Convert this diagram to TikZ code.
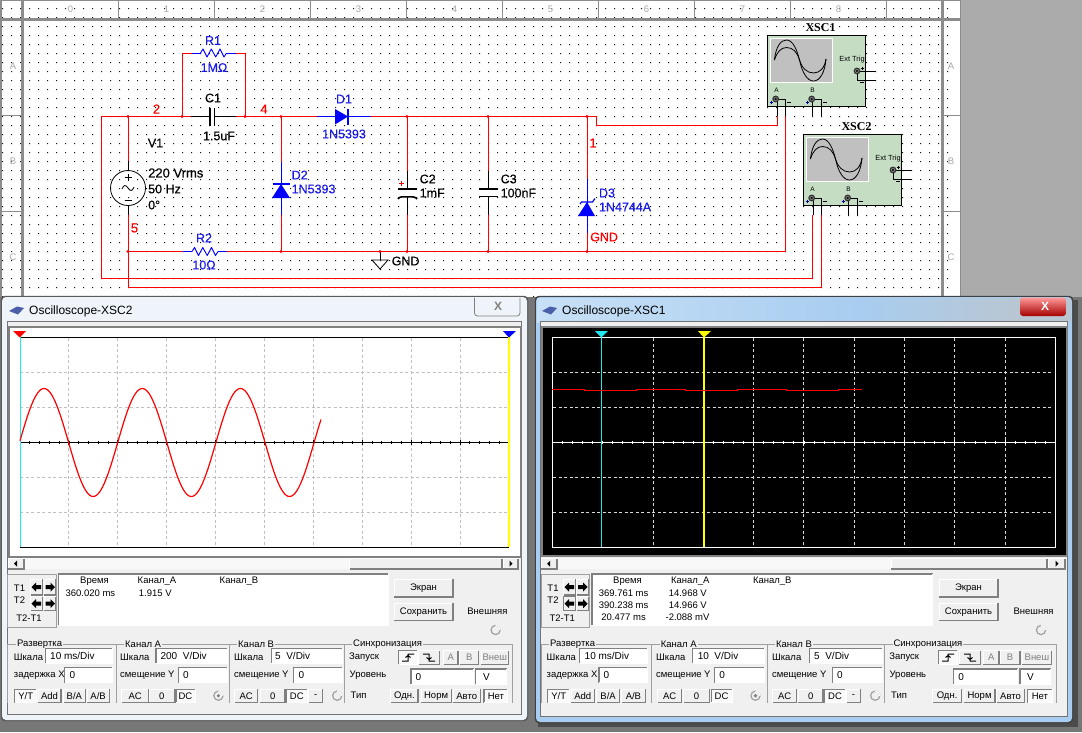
\documentclass[tikz,border=0pt]{standalone}
\usepackage{fontspec}
\setmainfont{Liberation Sans}
\newfontfamily\scopefont{Liberation Serif}
\newfontfamily\heavyfont[FakeBold=0.35]{Liberation Sans}
\definecolor{desk}{HTML}{777777}
\definecolor{greyside}{HTML}{ABABAB}
\definecolor{rulerline}{HTML}{8C8C8C}
\definecolor{rulertxt}{HTML}{A8A8A8}
\definecolor{griddot}{HTML}{101010}
\definecolor{wirered}{HTML}{FF0000}
\definecolor{partblue}{HTML}{0000FF}
\definecolor{lblblue}{HTML}{1A1AE6}
\definecolor{scopegreen}{HTML}{C5DDC3}
\definecolor{screengrey}{HTML}{C0C0C0}
\definecolor{panel}{HTML}{F0F0F0}
\definecolor{framegrey}{HTML}{A0A0A0}
\definecolor{shadeb}{HTML}{808080}
\definecolor{gridgrey}{HTML}{C0C0C0}
\definecolor{curcyan}{HTML}{20E8F0}
\definecolor{curyellow}{HTML}{FFFF00}
\definecolor{glassa}{HTML}{C8E0F6}
\definecolor{glassb}{HTML}{A8CDF0}
\definecolor{glassc}{HTML}{B9C6D2}
\definecolor{glassw}{HTML}{EEF4FA}
\definecolor{iconblue}{HTML}{4A5FA8}
\newcounter{uid}
\tikzset{
  wire/.style={wirered,line width=1pt},
  lead/.style={black,line width=1pt},
  bluelead/.style={partblue,line width=1pt},
  junct/.style={circle,fill=wirered,inner sep=0pt,minimum size=3.4pt},
  comptext/.style={font=\heavyfont\fontsize{12.5}{13}\selectfont,inner sep=0pt,text=black},
  bluetext/.style={comptext,text=lblblue},
  nettext/.style={font=\heavyfont\fontsize{13}{13}\selectfont,inner sep=0pt,text=red},
  rulertext/.style={font=\fontsize{9.5}{10}\selectfont,inner sep=0pt,text=rulertxt},
  uitext/.style={font=\fontsize{9.5}{10}\selectfont,inner sep=0pt,text=black},
  fieldtext/.style={font=\fontsize{10}{10}\selectfont,inner sep=0pt,text=black},
  tinytext/.style={font=\fontsize{6.5}{7}\selectfont,inner sep=0pt,text=black},
  gridline/.style={dash pattern=on 3pt off 2.5pt,line width=0.8pt},
}
\newcommand\rbtn[5]{%
  \fill[panel] (#1,#2) rectangle (#3,#4);
  \draw[white,line width=1pt] (#1,#4) -- (#1,#2) -- (#3,#2);
  \draw[shadeb,line width=1.4pt] (#1,#4) -- (#3,#4) -- (#3,#2);
  \stepcounter{uid}\node[uitext] (u\theuid) at ({(#1+#3)/2},{(#2+#4)/2}) {#5};}
\newcommand\pbtn[5]{%
  \fill[white!60!panel] (#1,#2) rectangle (#3,#4);
  \draw[shadeb,line width=1.2pt] (#1,#4) -- (#1,#2) -- (#3,#2);
  \draw[white,line width=1pt] (#1,#4) -- (#3,#4) -- (#3,#2);
  \stepcounter{uid}\node[uitext] (u\theuid) at ({(#1+#3)/2},{(#2+#4)/2}) {#5};}
\newcommand\dbtn[5]{%
  \fill[panel] (#1,#2) rectangle (#3,#4);
  \draw[white,line width=1pt] (#1,#4) -- (#1,#2) -- (#3,#2);
  \draw[shadeb,line width=1.2pt] (#1,#4) -- (#3,#4) -- (#3,#2);
  \stepcounter{uid}\node[uitext,text=gray] (u\theuid) at ({(#1+#3)/2},{(#2+#4)/2}) {#5};}
\newcommand\fld[6]{%
  \fill[white] (#1,#2) rectangle (#3,#4);
  \draw[shadeb,line width=1.3pt] (#1,#4) -- (#1,#2) -- (#3,#2);
  \draw[white,line width=1pt] (#1,#4) -- (#3,#4) -- (#3,#2);
  \stepcounter{uid}\node[fieldtext,anchor=west] (u\theuid) at (#5,{(#2+#4)/2}) {#6};}
\newcommand\ltxt[3]{\stepcounter{uid}\node[uitext,anchor=west] (u\theuid) at (#1,#2) {#3};}
\newcommand\ctxt[3]{\stepcounter{uid}\node[uitext] (u\theuid) at (#1,#2) {#3};}
\newcommand\grp[4]{%
  \draw[framegrey,line width=1pt] (#1,703.3) -- (#1,644.3) -- (#2,644.3) -- (#2,703.3);
  \stepcounter{uid}\node[uitext,anchor=west,fill=panel,inner xsep=1pt] (u\theuid) at (#3,644) {#4};}
\newcommand\radio[3]{%
  \draw[framegrey,line width=1.2pt] (#1,#2) circle (4.6);
  \draw[white,line width=1.2pt] (#1+4.6,#2) arc (0:-90:4.6);
  \ifnum#3=1 \fill[gray] (#1,#2) circle (1.8);\fi}
\newcommand\arleft[2]{\fill[black] (#1-5,#2) -- (#1-0.5,#2-4.5) -- (#1-0.5,#2-2) -- (#1+4.5,#2-2) -- (#1+4.5,#2+2) -- (#1-0.5,#2+2) -- (#1-0.5,#2+4.5) -- cycle;}
\newcommand\arright[2]{\fill[black] (#1+5,#2) -- (#1+0.5,#2-4.5) -- (#1+0.5,#2-2) -- (#1-4.5,#2-2) -- (#1-4.5,#2+2) -- (#1+0.5,#2+2) -- (#1+0.5,#2+4.5) -- cycle;}
\newcommand\edgeup[2]{\draw[black,line width=1pt] (#1-6,#2+3.5) -- (#1,#2+3.5) -- (#1,#2-3.5) -- (#1+6,#2-3.5) (#1-2.5,#2) -- (#1,#2-2) -- (#1+2.5,#2);}
\newcommand\edgedown[2]{\draw[black,line width=1pt] (#1-6,#2-3.5) -- (#1,#2-3.5) -- (#1,#2+3.5) -- (#1+6,#2+3.5) (#1-2.5,#2) -- (#1,#2+2) -- (#1+2.5,#2);}
\newcommand\sbar[7]{%
  \fill[white!50!panel] (#1,558) rectangle (#7,569);
  \rbtn{#1}{558.5}{#2}{569}{}
  \rbtn{#3}{558.5}{#4}{569}{}
  \rbtn{#5}{558.5}{#6}{569}{}
  \fill[black] ({(#1+#2)/2-2},563.7) -- ({(#1+#2)/2+1},560.7) -- ({(#1+#2)/2+1},566.7) -- cycle;
  \fill[black] ({(#5+#6)/2+2},563.7) -- ({(#5+#6)/2-1},560.7) -- ({(#5+#6)/2-1},566.7) -- cycle;}
\newcommand\zigzag[2]{\draw[partblue,line width=0.9pt,line join=round] (#1-13,#2) -- (#1-10.5,#2-4) -- (#1-6.5,#2+4) -- (#1-2.2,#2-4) -- (#1+2.2,#2+4) -- (#1+6.5,#2-4) -- (#1+10.5,#2+4) -- (#1+13,#2);}
\newcommand\scopeicon[4]{%
\begin{scope}[shift={(#2,#3)}]
  \draw[black,fill=scopegreen,line width=1pt] (767.5,35.7) rectangle (865.6,106.7);
  \draw[white,fill=screengrey,line width=1pt] (770.3,38.7) rectangle (832.8,82.3);
  \draw[black,line width=0.8pt] (774.4,60) .. controls (776,46) and (781,40) .. (786.5,40) .. controls (793,40) and (797,50) .. (799.5,60) .. controls (802,72) and (807,81) .. (813.5,81) .. controls (820,81) and (825,72) .. (826,59);
  \draw[black,line width=0.8pt] (774.4,60) .. controls (777,52) and (781,47.5) .. (786.5,47.5) .. controls (793,47.5) and (797,52) .. (799.5,60) .. controls (802,68) and (807,73) .. (813.5,73) .. controls (820,73) and (824.5,68) .. (826,59);
  \node[tinytext,font=\fontsize{7.4}{8}\selectfont] (#1ext) at (852,60) {Ext Trig};
  \node[tinytext] (#1a) at (776.5,90.5) {A};
  \node[tinytext] (#1b) at (812.5,90) {B};
  \coordinate (#1pa) at (775.7,99);
  \coordinate (#1pb) at (811.7,99);
  \coordinate (#1pt) at (857,71);
  \coordinate (#1ta) at (875.6,71);
  \coordinate (#1tb) at (875.6,80);
  \coordinate (#1aplus) at (777,#4);
  \coordinate (#1aminus) at (785.4,#4);
  \coordinate (#1bplus) at (812.5,116);
  \coordinate (#1bminus) at (821.5,116);
  \draw[lead] (#1pa) -| (#1aminus);
  \draw[lead] (777,99) -- (#1aplus);
  \draw[lead] (#1pb) -| (#1bminus);
  \draw[lead] (812.5,99) -- (#1bplus);
  \draw[lead] (#1pt) -- (#1ta);
  \draw[lead] (#1pt) |- (#1tb);
  \foreach \px/\py in {775.7/99,811.7/99,857/71}{
    \draw[black!80,fill=gray,line width=1.2pt] (\px,\py) circle (2.8);
    \fill[black] (\px,\py) circle (1.1);}
  \draw[blue!60!black,line width=0.6pt] (769.5,102) -- (772.5,102) (771,100.5) -- (771,103.5);
  \draw[black,line width=0.8pt] (787,102) -- (791,102);
  \draw[blue!60!black,line width=0.6pt] (805.5,102) -- (808.5,102) (807,100.5) -- (807,103.5);
  \draw[black,line width=0.8pt] (823,102) -- (827,102);
  \draw[black,line width=0.6pt] (860.5,68) -- (863.5,68) (862,66.5) -- (862,69.5);
  \draw[black,line width=0.8pt] (860,82) -- (864,82);
\end{scope}}
\begin{document}
\begin{tikzpicture}[x=1pt,y=-1pt]
\useasboundingbox (0,0) rectangle (1082,732);
\fill[desk] (0,0) rectangle (1082,732);
\fill[greyside] (960,0) rectangle (1082,297);
\fill[white] (0,0) rectangle (960,297);
% sheet dots
\fill[griddot] \foreach \i in {0,...,105}{\foreach \j in {0,...,32}{ ({2+9*\i},{8+9*\j}) rectangle +(1,1) }};
% rulers
\draw[rulerline,line width=1pt] (0,0.5) -- (960,0.5);
\fill[rulerline] (0,0) rectangle (2,297);
\fill[rulerline] (0,18) rectangle (960,21);
\fill[rulerline] (21,0) rectangle (24,297);
\fill[rulerline] (941,0) rectangle (944,297);
\fill[rulerline] (959.5,0) rectangle (961,297);
\draw[rulerline,line width=1pt] \foreach \tx in {118.5,214.5,310.5,406.5,502.5,598.5,694.5,790.5,886.5}{(\tx,0) -- (\tx,18)};
\draw[rulerline,line width=1pt] (0,115.6) -- (21,115.6) (0,211.3) -- (21,211.3) (944,115.6) -- (960,115.6) (944,211.3) -- (960,211.3);
\foreach \n/\tx in {0/70.5,1/166.5,2/262.5,3/358.5,4/454.5,5/550.5,6/646.5,7/742.5,8/838.5}{\node[rulertext] (rt\n) at (\tx,9.5) {\n};}
\foreach \n/\ty in {A/66,B/161.5,C/257.5}{\node[rulertext] (rl\n) at (13,\ty) {\n}; \node[rulertext] (rr\n) at (951,\ty) {\n};}
% circuit coordinates
\coordinate (tl) at (101,116.5);
\coordinate (j2a) at (128,116.5);
\coordinate (j2b) at (182,116.5);
\coordinate (c1l) at (191,116.5);
\coordinate (c1pl) at (210,116.5);
\coordinate (c1pr) at (214.5,116.5);
\coordinate (c1r) at (236,116.5);
\coordinate (j4a) at (245,116.5);
\coordinate (j4b) at (281,116.5);
\coordinate (d1l) at (317,116.5);
\coordinate (d1r) at (371,116.5);
\coordinate (jc2) at (407,116.5);
\coordinate (jc3) at (488,116.5);
\coordinate (jd3) at (587,116.5);
\coordinate (jog) at (596.5,116.5);
\coordinate (jog2) at (596.5,125.5);
\coordinate (bl) at (128,251.5);
\coordinate (r2l) at (183,251.5);
\coordinate (r2r) at (227,251.5);
\coordinate (bd2) at (281,251.5);
\coordinate (bg) at (380,251.5);
\coordinate (bc2) at (407,251.5);
\coordinate (bc3) at (488,251.5);
\coordinate (bd3) at (587,251.5);
\coordinate (r1a) at (192,53);
\coordinate (r1b) at (236,53);
% instruments
\scopeicon{sa}{0}{0}{116}
\scopeicon{sb}{36}{99}{116}
\node[font=\scopefont\bfseries\fontsize{12}{12}\selectfont,inner sep=0pt] (xsc1) at (820.5,27.5) {XSC1};
\node[font=\scopefont\bfseries\fontsize{12}{12}\selectfont,inner sep=0pt] (xsc2) at (856.5,126.5) {XSC2};
% wires
\draw[wire] (c1l) -- (tl) |- (812.4,278) -- (812.4,215);
\draw[wire] (c1r) -- (d1l);
\draw[wire] (d1r) -- (jog) -- (jog2) -| (saaplus);
\draw[wire] (bl) -- (128,287) -| (821.4,215);
\draw[wire] (j2a) -- (128,161);
\draw[wire] (128,215) -- (bl);
\draw[wire] (bl) -- (r2l);
\draw[wire] (r2r) -- (785.4,251.5) -- (saaminus);
\draw[wire] (j2b) |- (r1a);
\draw[wire] (r1b) -| (j4a);
\draw[wire] (j4b) -- (281,162);
\draw[wire] (281,215) -- (bd2);
\draw[wire] (jc2) -- (407,171);
\draw[wire] (407,215) -- (bc2);
\draw[wire] (jc3) -- (488,171);
\draw[wire] (488,215) -- (bc3);
\draw[wire] (jd3) -- (587,179);
\draw[wire] (587,233) -- (bd3);
% parts
\draw[lead] (c1l) -- (c1pl) (c1pr) -- (c1r);
\draw[black,line width=1.6pt] (210,108) -- (210,125.6) (214.5,108) -- (214.5,125.6);
\draw[bluelead] (r1a) -- (201,53) (226,53) -- (r1b);
\zigzag{213.5}{53}
\draw[bluelead] (r2l) -- (192,251.5) (218,251.5) -- (r2r);
\zigzag{205}{251.5}
% V1
\draw[lead] (128,161) -- (128,171) (128,205) -- (128,215);
\draw[black,line width=0.8pt] (128,188) circle (17.5);
\draw[black,line width=0.8pt] (124.5,177.5) -- (131.5,177.5) (128,174) -- (128,181) (124.5,200) -- (131.5,200);
\draw[black,line width=0.8pt] (122,189) .. controls (124,184) and (126,185) .. (128,188) .. controls (130,191) and (132,192) .. (134,187);
% D1
\draw[bluelead] (d1l) -- (d1r);
\fill[partblue] (335,109) -- (348,116.5) -- (335,124.5) -- cycle;
\draw[partblue,line width=1.2pt] (348,108.5) -- (348,124.5);
% D2
\draw[bluelead] (281,162) -- (281,215);
\fill[partblue] (272,198) -- (281,184) -- (290,198) -- cycle;
\draw[partblue,line width=1.2pt] (272.5,184) -- (289.5,184);
% C2 and C3
\draw[lead] (407,171) -- (407,189) (407,197) -- (407,215);
\draw[black,line width=1.6pt] (398,189) -- (417,189);
\draw[black,line width=1.6pt] (398,199) .. controls (399,196.5) and (403,196.8) .. (407,196.8) .. controls (411,196.8) and (416,196.5) .. (417,199);
\draw[lead] (488,171) -- (488,189) (488,196.5) -- (488,215);
\draw[black,line width=1.6pt] (479,189) -- (498,189) (479,196.5) -- (498,196.5);
\draw[red,line width=0.7pt] (398.5,183) -- (403.5,183) (401,180.5) -- (401,185.5);
% D3
\draw[bluelead] (587,179) -- (587,233);
\fill[partblue] (578,216) -- (587,202) -- (595,216) -- cycle;
\draw[partblue,line width=1.2pt] (580,204) -- (581.5,202) -- (592.5,202) -- (595,198.5);
% GND
\draw[lead] (bg) -- (380,260);
\draw[black,line width=0.8pt] (372,260) -- (388,260) -- (380,269) -- cycle;
% junctions
\foreach \nm in {j2a,j2b,j4a,j4b,jc2,jc3,jd3,bl,bd2,bg,bc2,bc3,bd3}{\node[junct] (dot\nm) at (\nm) {};}
% labels
\node[bluetext] (r1n) at (213,40.5) {R1};
\node[bluetext] (r1v) at (214,67.5) {1MΩ};
\node[comptext] (c1n) at (213,98) {C1};
\node[comptext] (c1v) at (219,136) {1.5uF};
\node[comptext] (v1n) at (155.5,143) {V1};
\node[comptext,anchor=west,font=\heavyfont\fontsize{13}{13}\selectfont] (v1a) at (148,173) {220 Vrms};
\node[comptext,anchor=west] (v1b) at (148,189) {50 Hz};
\node[comptext,anchor=west] (v1c) at (148,205) {0°};
\node[nettext] (n2) at (156.5,109) {2};
\node[nettext] (n4) at (264,109) {4};
\node[nettext] (n5) at (134.5,228) {5};
\node[nettext] (n1) at (593,143) {1};
\node[bluetext] (d1n) at (344,99) {D1};
\node[bluetext] (d1v) at (344,134) {1N5393};
\node[bluetext,anchor=west] (d2n) at (291.5,175) {D2};
\node[bluetext,anchor=west] (d2v) at (291.5,189) {1N5393};
\node[comptext,anchor=west] (c2n) at (419.5,179) {C2};
\node[comptext,anchor=west] (c2v) at (419.5,193) {1mF};
\node[comptext,anchor=west] (c3n) at (500.5,179) {C3};
\node[comptext,anchor=west] (c3v) at (500.5,193) {100nF};
\node[bluetext] (r2n) at (204,238) {R2};
\node[bluetext] (r2v) at (204,265) {10Ω};
\node[comptext,anchor=west] (gndt) at (391.5,261) {GND};
\node[bluetext,anchor=west] (d3n) at (598.8,193) {D3};
\node[bluetext,anchor=west] (d3v) at (598.8,207) {1N4744A};
\node[nettext,font=\heavyfont\fontsize{12.5}{13}\selectfont,anchor=west] (gndr) at (590,237) {GND};
%
% ---------- window XSC2 ----------
\draw[black!65,fill=black!65,rounded corners=4pt] (1,296) rectangle (528,721);
\fill[glassw,rounded corners=4pt] (2,297) rectangle (527,720);
\fill[panel] (8,322) rectangle (520.7,714);
\draw[black!55,line width=0.6pt] (7.5,321.5) rectangle (521,714.5);
\draw[gray,line width=0.8pt,rounded corners=3pt] (474.5,297.5) -- (474.5,316) -- (520,316) -- (520,297.5);
\node[font=\bfseries\fontsize{12}{12}\selectfont,text=gray] (x2) at (498,306) {X};
\fill[iconblue] (9,311) -- (17,306.5) -- (24,308) -- (18,314.5) -- cycle;
\node[font=\fontsize{12}{12}\selectfont,inner sep=0pt,anchor=west] (t2) at (29,311) {Oscilloscope-XSC2};
% plot 2
\fill[white] (8,326) rectangle (520,557);
\draw[shadeb,line width=2pt] (8.5,326.5) -- (520.5,326.5) -- (520.5,556.5) -- (8.5,556.5) -- cycle;
\draw[gridgrey,gridline] \foreach \gx in {68.2,117.4,166.3,215.2,264.5,313.4,362.3,411.2,460.4}{(\gx,338) -- (\gx,547)};
\draw[gridgrey,gridline] \foreach \gy in {372.3,407.3,477.3,512.3}{(20,\gy) -- (509,\gy)};
\draw[black,line width=1pt] (20,337.3) -- (509,337.3) (20,442.3) -- (509,442.3) (20,547.3) -- (509,547.3);
\draw[black,line width=0.8pt] \foreach \k in {0,...,49}{({20+9.78*\k},440.8) -- ({20+9.78*\k},443.8)};
\draw[black,line width=0.8pt] \foreach \gx in {68.2,117.4,166.3,215.2,264.5,313.4,362.3,411.2,460.4}{(\gx,439.8) -- (\gx,444.8)};
\draw[curcyan,line width=1pt] (20,337.3) -- (20,547.3);
\draw[curyellow,line width=1.3pt] (509,337.3) -- (509,547.3);
\draw[red,line width=1.2pt] plot[domain=20:321,samples=200] (\x,{442.5-54*sin((\x-19.5)/98.2*360)});
\fill[red] (13,331) -- (26,331) -- (19.8,337.5) -- cycle;
\fill[blue] (503,331) -- (516,331) -- (509,337.5) -- cycle;
\sbar{8}{24}{349.5}{502}{503}{518}{519}
% panel 1
\draw[framegrey,fill=panel,line width=1pt] (7.5,574) rectangle (56.3,627.3);
\ctxt{19.5}{588}{T1}\ctxt{19.5}{600}{T2}\ctxt{29}{618}{T2-T1}
\rbtn{30.7}{579.3}{42.3}{595}{}\rbtn{44.4}{579.3}{55.6}{595}{}
\rbtn{30.7}{596.7}{42.3}{610.7}{}\rbtn{44.4}{596.7}{55.6}{610.7}{}
\arleft{36.5}{587}\arright{50}{587}\arleft{36.5}{603.7}\arright{50}{603.7}
\fld{58.7}{574}{388}{625}{60}{}
\ctxt{94.5}{581}{Время}\ctxt{157}{581}{Канал\_А}\ctxt{239}{581}{Канал\_В}
\ctxt{90.4}{593}{360.020 ms}\ctxt{155.3}{593}{1.915 V}
\rbtn{394}{579}{453}{597}{Экран}\rbtn{394}{603}{453}{620.7}{Сохранить}
\ctxt{487.4}{611}{Внешняя}\radio{495.6}{630}{0}
\grp{7.5}{116.7}{16}{Развертка}\grp{116.7}{229}{124}{Канал А}\grp{229}{344.7}{237}{Канал В}\grp{344.7}{512.6}{352}{Синхронизация}
\ltxt{13.7}{657}{Шкала}\fld{45.7}{648.3}{112.6}{663.3}{50}{10 ms/Div}
\ltxt{13.7}{675}{задержка X}\fld{64.8}{667.3}{112.6}{682.7}{69.3}{0}
\pbtn{14.7}{689.3}{36.9}{702.7}{Y/T}\rbtn{38.2}{689.3}{60.8}{702.7}{Add}\rbtn{63.5}{689.3}{85.3}{702.7}{B/A}\rbtn{87}{689.3}{109.2}{702.7}{A/B}
\ltxt{120}{657}{Шкала}\fld{156}{648.3}{227}{663.3}{160.4}{200\ \ V/Div}
\ltxt{120}{675}{смещение Y}\fld{178.5}{667.3}{227}{682.7}{183}{0}
\rbtn{121.8}{689.3}{148.5}{702.7}{AC}\rbtn{149}{689.3}{174.7}{702.7}{0}\pbtn{176}{689.3}{195}{702.7}{DC}\radio{218.4}{695.7}{1}
\ltxt{234}{657}{Шкала}\fld{271.3}{648.3}{342.3}{663.3}{275}{5\ \ V/Div}
\ltxt{234}{675}{смещение Y}\fld{293.5}{667.3}{342.3}{682.7}{298.3}{0}
\rbtn{234.8}{689.3}{257.7}{702.7}{AC}\rbtn{260.4}{689.3}{285}{702.7}{0}\pbtn{286.7}{689.3}{307}{702.7}{DC}\rbtn{308.9}{689.3}{322.5}{702.7}{-}\radio{337.2}{695.7}{0}
\ltxt{349}{657}{Запуск}\pbtn{398.6}{650.7}{417}{664.3}{}\rbtn{418.8}{650.7}{439.6}{664.3}{}\edgeup{408}{657.5}\edgedown{429}{657.5}
\dbtn{443.7}{650.7}{458}{664.3}{А}\dbtn{459.7}{650.7}{478.8}{664.3}{В}\dbtn{481}{650.7}{508.5}{664.3}{Внеш}
\ltxt{349.5}{675}{Уровень}\fld{411}{669}{473.7}{684.3}{415.4}{0}\fld{475.8}{669}{506.8}{684.3}{483}{V}
\ltxt{350.5}{695.7}{Тип}\rbtn{390.8}{689.3}{418}{702.7}{Одн.}\rbtn{421}{689.3}{451.2}{702.7}{Норм}\rbtn{453}{689.3}{480.5}{702.7}{Авто}\pbtn{484}{689.3}{507.9}{702.7}{Нет}
%
% ---------- window XSC1 ----------
\fill[black!70] (1072,300) rectangle (1078,726);
\fill[black!70] (538,720) rectangle (1078,727);
\draw[black!75,fill=black!75,rounded corners=4pt] (535,296) rectangle (1073,723);
\fill[glassb,rounded corners=4pt] (536,297) rectangle (1072,722);
\shade[left color=glassa,right color=glassb] (537,298) rectangle (860,322);
\shade[left color=glassb,right color=glassc] (860,298) rectangle (1020,322);
\fill[glassc] (1020,298) rectangle (1071,322);
\fill[panel] (541,322) rectangle (1067,716);
\draw[black!55,line width=0.6pt] (540.5,321.5) rectangle (1067.5,716.5);
\shade[top color=red!40!white,bottom color=red!65!black,rounded corners=3pt] (1020,297.5) rectangle (1066,316);
\node[font=\bfseries\fontsize{12}{12}\selectfont,text=white] (x1) at (1045,306) {X};
\fill[iconblue] (542,311) -- (550,306.5) -- (557,308) -- (551,314.5) -- cycle;
\node[font=\fontsize{12}{12}\selectfont,inner sep=0pt,anchor=west] (t1) at (562,311) {Oscilloscope-XSC1};
% plot 1
\fill[black] (541.3,326) rectangle (1066.5,555);
\draw[shadeb,line width=2pt] (541.5,326.5) -- (1066.5,326.5) -- (1066.5,555.5) -- (541.5,555.5) -- cycle;
\draw[white,line width=1pt] (552.4,337.3) rectangle (1055.2,547.3);
\draw[white!85!black,gridline] \foreach \gx in {601.3,653.3,703.9,753.4,803.3,854.3,904.5,954.4,1005.3}{(\gx,338) -- (\gx,547)};
\draw[white!85!black,gridline] \foreach \gy in {372.3,407.3,477.3,512.3}{(553,\gy) -- (1053,\gy)};
\draw[white,line width=1pt] (552.4,442.3) -- (1055.2,442.3);
\draw[white,line width=0.8pt] \foreach \k in {0,...,49}{({552.4+10.06*\k},440.8) -- ({552.4+10.06*\k},443.8)};
\draw[white,line width=0.8pt] \foreach \gx in {653.3,753.4,803.3,854.3,904.5,954.4,1005.3}{(\gx,439.8) -- (\gx,444.8)};
\draw[curcyan,line width=1pt] (601.3,337.3) -- (601.3,547.3);
\draw[curyellow,line width=1.3pt] (704,337.3) -- (704,547.3);
\draw[red,line width=1.2pt] (552.4,389.5) -- (584.5,389.5) -- (584.5,390.5) -- (636.5,390.5) -- (636.5,389.5) -- (685.4,389.5) -- (685.4,390.5) -- (737.4,390.5) -- (737.4,389.5) -- (786.2,389.5) -- (786.2,390.5) -- (838.6,390.5) -- (838.6,389.5) -- (862,389.5);
\fill[curcyan] (595,331) -- (608,331) -- (601.3,337.5) -- cycle;
\fill[curyellow] (698,331) -- (711,331) -- (704,337.5) -- cycle;
\sbar{541.3}{557}{891}{1047}{1048}{1065}{1066}
% panel 2
\draw[framegrey,fill=panel,line width=1pt] (541.3,574) rectangle (589.8,627.3);
\ctxt{553}{588}{T1}\ctxt{553}{600}{T2}\ctxt{562.2}{618}{T2-T1}
\rbtn{563.6}{579.3}{575.5}{595}{}\rbtn{576.9}{579.3}{588.4}{595}{}
\rbtn{563.6}{596.7}{575.5}{610.7}{}\rbtn{576.9}{596.7}{588.4}{610.7}{}
\draw[shadeb,line width=1pt] (563.6,596.7) rectangle (575.5,610.7);
\arleft{569.5}{587}\arright{582.7}{587}\arleft{569.5}{603.7}\arright{582.7}{603.7}
\fld{591.9}{574}{932.8}{625}{595}{}
\ctxt{627.5}{581}{Время}\ctxt{690.3}{581}{Канал\_А}\ctxt{772.3}{581}{Канал\_В}
\ctxt{623.6}{593}{369.761 ms}\ctxt{687.8}{593}{14.968 V}
\ctxt{623.6}{605}{390.238 ms}\ctxt{687.8}{605}{14.966 V}
\ctxt{623.6}{617}{20.477 ms}\ctxt{687.5}{617}{-2.088 mV}
\rbtn{939}{579}{998}{597}{Экран}\rbtn{939}{603}{998}{620.7}{Сохранить}
\ctxt{1033.6}{611}{Внешняя}\radio{1041}{630}{0}
\grp{541.3}{651.9}{549}{Развертка}\grp{651.9}{767}{659.6}{Канал А}\grp{767}{884.6}{774.8}{Канал В}\grp{884.6}{1056.6}{892.3}{Синхронизация}
\ltxt{546.5}{657}{Шкала}\fld{579.7}{648.3}{647.7}{663.3}{584.5}{10 ms/Div}
\ltxt{546.5}{675}{задержка X}\fld{598.9}{667.3}{647.7}{682.7}{603.4}{0}
\pbtn{547.6}{689.3}{569.9}{702.7}{Y/T}\rbtn{571.3}{689.3}{594.3}{702.7}{Add}\rbtn{596.8}{689.3}{619.4}{702.7}{B/A}\rbtn{621.5}{689.3}{645.3}{702.7}{A/B}
\ltxt{656}{657}{Шкала}\fld{692.7}{648.3}{764.6}{663.3}{697.6}{10\ \ V/Div}
\ltxt{656}{675}{смещение Y}\fld{714.7}{667.3}{764.6}{682.7}{719.2}{0}
\rbtn{657.8}{689.3}{681.5}{702.7}{AC}\rbtn{683.6}{689.3}{709.5}{702.7}{0}\pbtn{711.2}{689.3}{732}{702.7}{DC}\radio{755.5}{695.7}{1}
\ltxt{771.9}{657}{Шкала}\fld{809.6}{648.3}{882.9}{663.3}{814}{5\ \ V/Div}
\ltxt{771.9}{675}{смещение Y}\fld{832.6}{667.3}{882.9}{682.7}{837}{0}
\rbtn{772.6}{689.3}{796.7}{702.7}{AC}\rbtn{798.4}{689.3}{822.9}{702.7}{0}\pbtn{824.6}{689.3}{845.5}{702.7}{DC}\rbtn{846.6}{689.3}{860.2}{702.7}{-}\radio{875.2}{695.7}{0}
\ltxt{889.2}{657}{Запуск}\pbtn{938.7}{650.7}{957.2}{664.3}{}\rbtn{959}{650.7}{980.6}{664.3}{}\edgeup{948}{657.5}\edgedown{970}{657.5}
\dbtn{983.4}{650.7}{999}{664.3}{А}\dbtn{1000}{650.7}{1020}{664.3}{В}\dbtn{1022.4}{650.7}{1051.4}{664.3}{Внеш}
\ltxt{889.4}{675}{Уровень}\fld{953.7}{669}{1017.6}{684.3}{958.2}{0}\fld{1020}{669}{1050.7}{684.3}{1027}{V}
\ltxt{891}{695.7}{Тип}\rbtn{932.8}{689.3}{961.4}{702.7}{Одн.}\rbtn{964.2}{689.3}{994.9}{702.7}{Норм}\rbtn{996.6}{689.3}{1024.5}{702.7}{Авто}\pbtn{1027.7}{689.3}{1052}{702.7}{Нет}
\end{tikzpicture}
\end{document}
